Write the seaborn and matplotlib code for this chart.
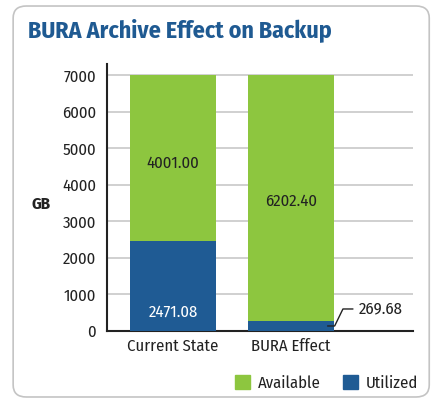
import matplotlib
matplotlib.use("Agg")
import matplotlib.pyplot as plt
import matplotlib.patches as mpatches
import seaborn as sns
import pandas as pd

# data
categories = ["Current State", "BURA Effect"]
utilized = [2471.08, 269.68]
available_drawn = [4528.92, 6730.32]   # green segment as drawn (bars reach 7000)
available_labels = ["4001.00", "6202.40"]
utilized_labels = ["2471.08", "269.68"]
yticks = [0, 1000, 2000, 3000, 4000, 5000, 6000, 7000]

GREEN = "#8dc63f"
BLUE = "#1f5b94"
TITLE_BLUE = "#1f5a92"
TEXT = "#222222"
FS = 12

sns.set_theme(style="white")
plt.rcParams["font.family"] = ["Fira Sans Condensed", "DejaVu Sans"]

df = pd.DataFrame({
    "category": categories,
    "utilized": utilized,
    "total": [u + a for u, a in zip(utilized, available_drawn)],
})

fig = plt.figure(figsize=(4.38, 4.01), dpi=100)
ax = fig.add_axes([0.2443, 0.1746, 0.6987, 0.6654])

# rounded frame around the whole chart
frame = mpatches.FancyBboxPatch((0.03, 0.01), 0.95, 0.975, boxstyle="round,pad=0,rounding_size=0.03",
                                transform=fig.transFigure, facecolor="white", edgecolor="#c4c4c4",
                                linewidth=1.2, zorder=-10)
fig.patches.append(frame)

sns.barplot(data=df, x="category", y="total", color=GREEN, width=0.73, saturation=1,
            linewidth=0, ax=ax, zorder=3)
sns.barplot(data=df, x="category", y="utilized", color=BLUE, width=0.73, saturation=1,
            linewidth=0, ax=ax, zorder=4)

ax.set_xlim(-0.559, 2.034)
ax.set_ylim(0, 7300)
ax.set_yticks(yticks)
ax.set_yticklabels([str(t) for t in yticks], fontsize=FS, color=TEXT)
ax.set_xticks(range(len(categories)))
ax.set_xticklabels(categories, fontsize=FS, color=TEXT)
ax.set_xlabel("")
ax.set_ylabel("")
ax.yaxis.grid(True, color="#c8c8c8", linewidth=1.2, zorder=0)
ax.set_axisbelow(True)
ax.tick_params(axis="y", length=6, color="#c8c8c8", pad=2)
ax.tick_params(axis="x", length=0, pad=5)
for side in ["top", "right"]:
    ax.spines[side].set_visible(False)
for side in ["left", "bottom"]:
    ax.spines[side].set_color(TEXT)
    ax.spines[side].set_linewidth(1.5)
ax.patch.set_alpha(0)

# value labels
ax.text(0, 4594, available_labels[0], ha="center", va="center", fontsize=FS, color=TEXT, zorder=5)
ax.text(1, 3555, available_labels[1], ha="center", va="center", fontsize=FS, color=TEXT, zorder=5)
ax.text(0, 520, utilized_labels[0], ha="center", va="center", fontsize=FS, color="white", zorder=5)
ax.plot([1.31, 1.37, 1.44, 1.525], [137, 137, 602, 602], color=TEXT, linewidth=1, zorder=6, clip_on=False)
ax.text(1.575, 602, utilized_labels[1], ha="left", va="center", fontsize=FS, color=TEXT, zorder=5)

fig.text(0.064, 0.925, "BURA Archive Effect on Backup", fontsize=17.2, fontweight="bold",
         color=TITLE_BLUE, ha="left", va="center")
fig.text(0.094, 0.49, "GB", fontsize=FS, fontweight="bold", color=TEXT, ha="center", va="center")

handles = [mpatches.Patch(color=GREEN, label="Available"), mpatches.Patch(color=BLUE, label="Utilized")]
fig.legend(handles=handles, loc="center right", bbox_to_anchor=(0.99, 0.045), ncol=2, frameon=False,
           fontsize=FS, handlelength=0.9, handleheight=0.9, handletextpad=0.5, columnspacing=1.3,
           labelcolor=TEXT)

fig.savefig("out.png", dpi=100)
